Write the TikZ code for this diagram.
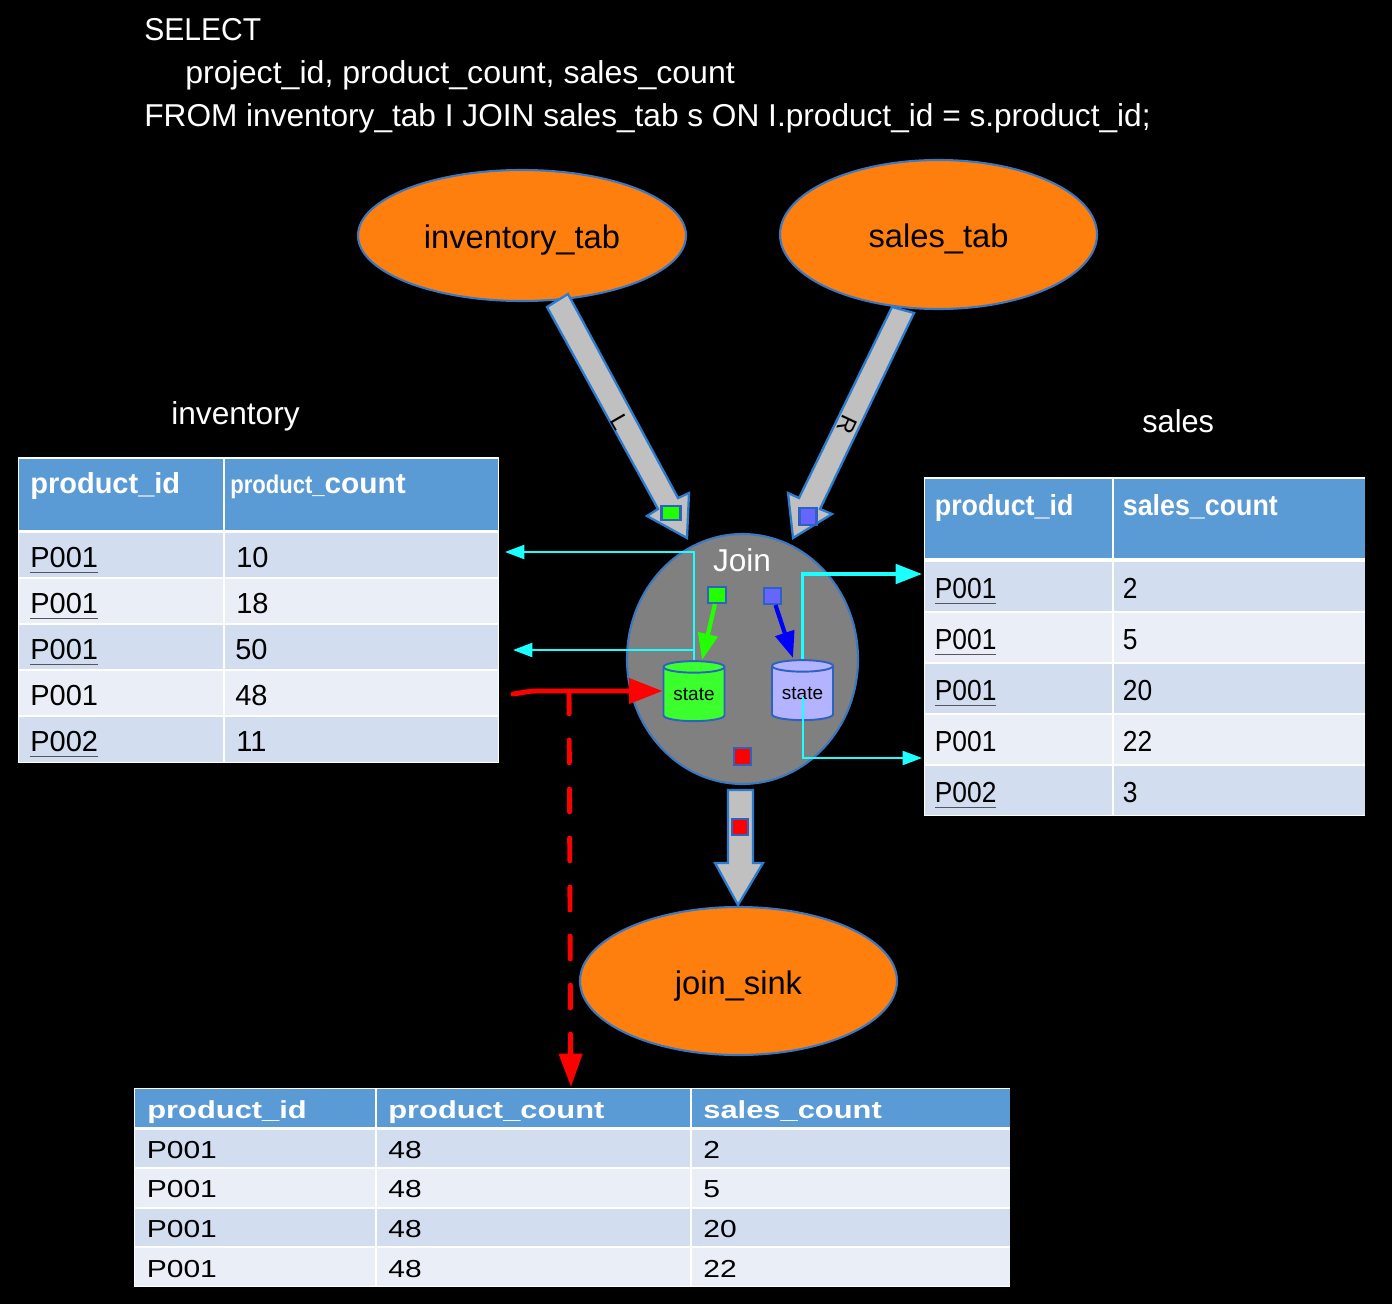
\documentclass[tikz,border=0pt]{standalone}
\usepackage{fontspec}
\usepackage{graphicx}
\usepackage{tikz}
\usetikzlibrary{arrows.meta,shapes.geometric}
\setmainfont{Liberation Sans}
\definecolor{edgeblue}{HTML}{3A78C2}
\definecolor{arrowedge}{HTML}{2B7CCF}
\definecolor{boxblue}{HTML}{2F62C0}
\definecolor{headblue}{HTML}{5B9BD5}
\definecolor{rowdark}{HTML}{D2DEEF}
\definecolor{rowlight}{HTML}{EAEFF7}
\definecolor{flameorange}{HTML}{FF7F0E}
\definecolor{arrowgray}{HTML}{C0C0C0}
\definecolor{joingray}{HTML}{808080}
\definecolor{leftgreen}{HTML}{22FF00}
\definecolor{stategreen}{HTML}{3CFF2E}
\definecolor{rightblue}{HTML}{6666FF}
\definecolor{statepurple}{HTML}{B3B3FF}
\definecolor{wirecyan}{HTML}{1CFFFF}
\definecolor{rulegray}{HTML}{555560}
\newcommand{\px}{0.02cm}
\newcommand{\nar}[1]{\scalebox{.91}[1]{#1}}
\newcommand{\narh}[1]{\scalebox{.925}[1]{#1}}
\newcommand{\wid}[1]{\scalebox{1.22}[1]{#1}}
\newcommand{\widh}[1]{\scalebox{1.255}[1]{#1}}
\newcommand{\ul}[1]{\setbox0\hbox{#1}\rlap{\color{rulegray}\rule[-3.6pt]{\wd0}{0.9pt}}\box0}
\tikzset{
	title/.style={anchor=base west,inner sep=0pt,text=white,font=\fontsize{18}{20}\selectfont},
	flink/.style={ellipse,draw=edgeblue,line width=1.2pt,fill=flameorange,inner sep=0pt,text height=14.8pt,text depth=0pt,font=\fontsize{18.6}{20}\selectfont},
	block/.style={draw=arrowedge,line width=1.3pt,fill=arrowgray,line join=miter},
	packet/.style={draw=boxblue,line width=1.2pt,inner sep=0pt},
	state/.style={cylinder,shape border rotate=90,aspect=0.28,draw=boxblue,line width=1.1pt,inner sep=0pt,minimum width=61*\px,minimum height=60*\px,font=\fontsize{10.8}{12}\selectfont},
	cell/.style={anchor=base west,inner sep=0pt,text=black,font=\fontsize{16.5}{18}\selectfont},
	head/.style={anchor=base west,inner sep=0pt,text=white,font=\fontsize{16.5}{18}\selectfont\bfseries},
	smallcell/.style={cell,font=\fontsize{14}{16}\selectfont},
	smallhead/.style={head,font=\fontsize{14}{16}\selectfont\bfseries},
	wire/.style={draw=wirecyan,line width=1.1pt,-{Triangle[length=11pt,width=8pt]}},
	thickwire/.style={draw=wirecyan,line width=2.2pt,-{Triangle[length=15pt,width=11pt]}},
	feed/.style={line width=2.4pt,-{Triangle[length=15pt,width=11pt]}},
	redline/.style={draw=red,line width=2.8pt,line cap=round}
}
\begin{document}
\begin{tikzpicture}[x=0.02cm,y=-0.02cm]
	\fill[black] (0,0) rectangle (1392,1304);
	\useasboundingbox (0,0) rectangle (1392,1304);

	\node[title] (sql1) at (144,41) {\scalebox{.95}[1]{SELECT}};
	\node[title] (sql2) at (185,84) {\scalebox{1.015}[1]{project\_id, product\_count, sales\_count}};
	\node[title] (sql3) at (144,127) {FROM inventory\_tab I JOIN sales\_tab s ON I.product\_id = s.product\_id;};
	\node[title] (invtitle) at (171,424) {inventory};
	\node[title] (saltitle) at (1142,432) {\scalebox{.97}[1]{sales}};

	% left table
	\fill[white] (18,457) rectangle (499,763);
	\fill[headblue] (19,459) rectangle (223,530);
	\fill[headblue] (225,459) rectangle (498,530);
	\fill[rowdark] (19,533) rectangle (223,577);
	\fill[rowdark] (225,533) rectangle (498,577);
	\fill[rowlight] (19,579) rectangle (223,623);
	\fill[rowlight] (225,579) rectangle (498,623);
	\fill[rowdark] (19,625) rectangle (223,669);
	\fill[rowdark] (225,625) rectangle (498,669);
	\fill[rowlight] (19,671) rectangle (223,715);
	\fill[rowlight] (225,671) rectangle (498,715);
	\fill[rowdark] (19,717) rectangle (223,762);
	\fill[rowdark] (225,717) rectangle (498,762);
	\node[head] (lh1) at (30,493) {product\_id};
	\node[head] (lh2) at (230,493) {\scalebox{.76}[.88]{product\_}\scalebox{1.03}[1]{count}};
	\node[cell] (la1) at (30,567) {\ul{P001}};
	\node[cell] (lb1) at (236,567) {10};
	\node[cell] (la2) at (30,613) {\ul{P001}};
	\node[cell] (lb2) at (236,613) {18};
	\node[cell] (la3) at (30,659) {\ul{P001}};
	\node[cell] (lb3) at (235,659) {50};
	\node[cell] (la4) at (30,705) {P001};
	\node[cell] (lb4) at (235,705) {48};
	\node[cell] (la5) at (30,751) {\ul{P002}};
	\node[cell] (lb5) at (236,751) {11};

	% right table
	\fill[white] (924,477) rectangle (1365,816);
	\fill[headblue] (925,479) rectangle (1112,558);
	\fill[headblue] (1114,479) rectangle (1365,558);
	\fill[rowdark] (925,562) rectangle (1112,611);
	\fill[rowdark] (1114,562) rectangle (1365,611);
	\fill[rowlight] (925,613) rectangle (1112,662);
	\fill[rowlight] (1114,613) rectangle (1365,662);
	\fill[rowdark] (925,664) rectangle (1112,713);
	\fill[rowdark] (1114,664) rectangle (1365,713);
	\fill[rowlight] (925,715) rectangle (1112,764);
	\fill[rowlight] (1114,715) rectangle (1365,764);
	\fill[rowdark] (925,766) rectangle (1112,815);
	\fill[rowdark] (1114,766) rectangle (1365,815);
	\node[head] (rh1) at (934.5,515) {\narh{product\_id}};
	\node[head] (rh2) at (1122.5,515) {\narh{sales\_count}};
	\node[cell] (ra1) at (934.5,598) {\ul{\nar{P001}}};
	\node[cell] (rb1) at (1122.5,598) {\nar{2}};
	\node[cell] (ra2) at (934.5,649) {\ul{\nar{P001}}};
	\node[cell] (rb2) at (1122.5,649) {\nar{5}};
	\node[cell] (ra3) at (934.5,700) {\ul{\nar{P001}}};
	\node[cell] (rb3) at (1122.5,700) {\nar{20}};
	\node[cell] (ra4) at (934.5,751) {\nar{P001}};
	\node[cell] (rb4) at (1122.5,751) {\nar{22}};
	\node[cell] (ra5) at (934.5,802) {\ul{\nar{P002}}};
	\node[cell] (rb5) at (1122.5,802) {\nar{3}};

	% result table
	\fill[white] (134,1088) rectangle (1010,1287);
	\fill[headblue] (135,1089) rectangle (375,1127);
	\fill[headblue] (377,1089) rectangle (690,1127);
	\fill[headblue] (692,1089) rectangle (1010,1127);
	\fill[rowdark] (135,1130) rectangle (375,1167);
	\fill[rowdark] (377,1130) rectangle (690,1167);
	\fill[rowdark] (692,1130) rectangle (1010,1167);
	\fill[rowlight] (135,1169) rectangle (375,1207);
	\fill[rowlight] (377,1169) rectangle (690,1207);
	\fill[rowlight] (692,1169) rectangle (1010,1207);
	\fill[rowdark] (135,1209) rectangle (375,1246);
	\fill[rowdark] (377,1209) rectangle (690,1246);
	\fill[rowdark] (692,1209) rectangle (1010,1246);
	\fill[rowlight] (135,1248) rectangle (375,1286);
	\fill[rowlight] (377,1248) rectangle (690,1286);
	\fill[rowlight] (692,1248) rectangle (1010,1286);
	\node[smallhead] (bh1) at (147,1118) {\widh{product\_id}};
	\node[smallhead] (bh2) at (388,1118) {\widh{product\_count}};
	\node[smallhead] (bh3) at (703,1118) {\widh{sales\_count}};
	\node[smallcell] (ba1) at (146.5,1158) {\wid{P001}};
	\node[smallcell] (bb1) at (388,1158) {\wid{48}};
	\node[smallcell] (bc1) at (703,1158) {\wid{2}};
	\node[smallcell] (ba2) at (146.5,1197.5) {\wid{P001}};
	\node[smallcell] (bb2) at (388,1197.5) {\wid{48}};
	\node[smallcell] (bc2) at (703,1197.5) {\wid{5}};
	\node[smallcell] (ba3) at (146.5,1237.5) {\wid{P001}};
	\node[smallcell] (bb3) at (388,1237.5) {\wid{48}};
	\node[smallcell] (bc3) at (703,1237.5) {\wid{20}};
	\node[smallcell] (ba4) at (146.5,1277) {\wid{P001}};
	\node[smallcell] (bb4) at (388,1277) {\wid{48}};
	\node[smallcell] (bc4) at (703,1277) {\wid{22}};

	% sources and sink
	\node[flink,minimum width=328*\px,minimum height=131*\px] (invtab) at (522,235.5) {inventory\_tab};
	\node[flink,minimum width=317*\px,minimum height=149*\px] (saltab) at (938.5,234.5) {sales\_tab};
	\node[flink,minimum width=317*\px,minimum height=148*\px] (sink) at (738.5,981) {join\_sink};
	\node[ellipse,draw=edgeblue,line width=1.2pt,fill=joingray,inner sep=0pt,minimum width=231*\px,minimum height=250*\px] (join) at (742.5,659) {};
	\node[inner sep=0pt,text=white,font=\fontsize{18}{20}\selectfont] (jointitle) at (742,560) {Join};

	% block arrows
	\draw[block] (547,307) -- (568,294) -- (678,498) -- (689,493) -- (687,538) -- (647,516) -- (658,509) -- cycle;
	\draw[block] (892,307) -- (914,313) -- (820,509) -- (832,514) -- (793,538) -- (788,493) -- (799,498) -- cycle;
	\draw[block] (728,790) -- (753,790) -- (753,863) -- (763,863) -- (738,905) -- (715,863) -- (728,863) -- cycle;
	\node[inner sep=0pt,rotate=-60,font=\fontsize{13.5}{14}\selectfont] (leftmark) at (620,422) {L};
	\node[inner sep=0pt,rotate=-115,font=\fontsize{13.5}{14}\selectfont] (rightmark) at (847,425) {R};

	% records
	\node[packet,fill=leftgreen,minimum width=19*\px,minimum height=14*\px] (recL) at (671,513) {};
	\node[packet,fill=rightblue,minimum width=17*\px,minimum height=17*\px] (recR) at (808,516.5) {};
	\node[packet,fill=leftgreen,minimum width=18*\px,minimum height=16*\px] (inL) at (717,595) {};
	\node[packet,fill=rightblue,minimum width=17*\px,minimum height=16*\px] (inR) at (772.5,596) {};
	\node[packet,fill=red,minimum width=17*\px,minimum height=17*\px] (outJ) at (742.5,756.5) {};
	\node[packet,fill=red,minimum width=16*\px,minimum height=16*\px] (outS) at (740,827) {};

	% state
	\node[state,fill=stategreen] (stateL) at (694,694.5) {state};
	\node[state,fill=statepurple] (stateR) at (802.5,693.5) {state};
	\draw[feed,draw=leftgreen,leftgreen] (inL) -- (702,660);
	\draw[feed,draw=blue,blue] (inR) -- (793,658);

	% probes
	\coordinate (hitA) at (505,552);
	\coordinate (hitB) at (513,650);
	\coordinate (hitC) at (922,574);
	\coordinate (hitD) at (922,758);
	\coordinate (probeD) at (803,697);
	\draw[wire] (stateL.north) |- (hitA);
	\draw[wire] (stateL.north) |- (hitB);
	\draw[thickwire] (stateR.north) |- (hitC);
	\draw[wire] (probeD) |- (hitD);

	% matched rows
	\coordinate (redstart) at (513,694);
	\coordinate (redbend) at (535,691);
	\coordinate (redfork) at (569,691);
	\coordinate (redend) at (571,1087);
	\draw[redline,-{Triangle[length=19pt,width=14pt]}] (redstart) .. controls (522,693) and (528,691) .. (redbend) -- (stateL.west |- redbend);
	\draw[redline,dash pattern=on 13pt off 14.9pt] (redfork) -- (570.7,1060);
	\draw[redline,line cap=butt,-{Triangle[length=19pt,width=13pt]}] (570.6,1050) -- (redend);
\end{tikzpicture}
\end{document}
